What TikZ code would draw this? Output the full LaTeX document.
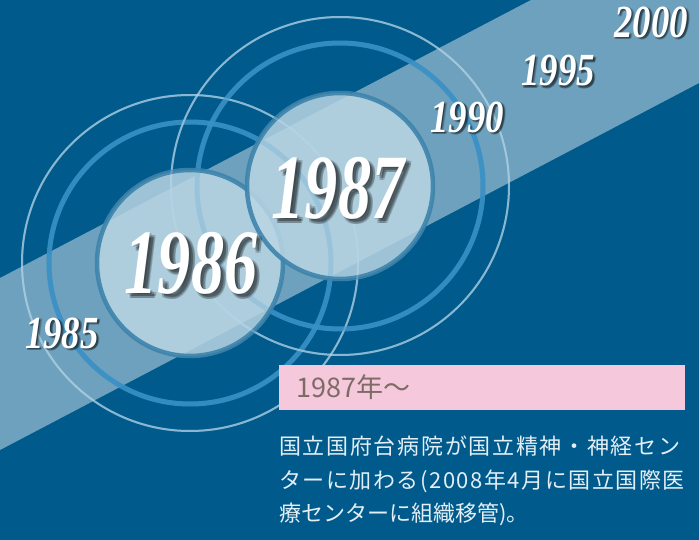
\documentclass[tikz,border=0pt]{standalone}
\usepackage{fontspec}
\usepackage{graphicx}
\newfontfamily\yrfont{Liberation Serif}
\newfontfamily\jp{Noto Sans CJK JP}
\newfontfamily\jpwideA[LetterSpace=7.7]{Noto Sans CJK JP}
\newfontfamily\jpwideB[LetterSpace=7.0]{Noto Sans CJK JP}
\definecolor{bgblue}{RGB}{0,91,140}
\definecolor{ringblue}{RGB}{58,145,198}
\definecolor{ringlight}{RGB}{175,210,230}
\definecolor{discfill}{RGB}{186,214,228}
\definecolor{discedge}{RGB}{62,132,172}
\definecolor{labelpink}{RGB}{245,200,220}
\definecolor{labeltext}{RGB}{125,108,102}
\definecolor{bodytext}{RGB}{228,238,245}
\newcommand\yearlabel[6]{%
  \foreach \d/\e in {1.5/1.5,3/3,4.5/4.5,3/5,5/3}{%
    \node[yrshadow] at ({#2+\d*#4/80},{#3+\e*#4/80}) {\fontsize{#4}{#4}\selectfont\yrfont\bfseries\itshape\scalebox{#5}[1]{#6}};}%
  \node[yr] (#1) at (#2,#3) {\fontsize{#4}{#4}\selectfont\yrfont\bfseries\itshape\scalebox{#5}[1]{#6}};%
}
\begin{document}
\begin{tikzpicture}[x=1pt,y=-1pt,
  ringthick/.style={draw=ringblue,line width=5pt,draw opacity=0.9},
  ringthin/.style={draw=ringlight,line width=2pt,draw opacity=0.7},
  disc/.style={circle,fill=discfill,fill opacity=0.85,draw=discedge,draw opacity=0.9,line width=4.5pt,inner sep=0pt},
  yr/.style={text=white,inner sep=0pt},
  yrshadow/.style={text=black,text opacity=0.18,inner sep=0pt},
  bodytxt/.style={text=bodytext,inner sep=0pt,font=\fontsize{22}{22}\selectfont\jp},
  pinkbox/.style={fill=labelpink,draw=none,inner sep=0pt}]
\useasboundingbox (0,0) rectangle (699,540);
\fill[bgblue] (0,0) rectangle (699,540);
% diagonal band
\fill[white,opacity=0.43] (0,278) -- (531,0) -- (699,0) -- (699,83) -- (0,450) -- cycle;
% centres
\coordinate (o86) at (190,263);
\coordinate (o87) at (340,186);
% rings
\draw[ringthick] (o86) circle[radius=141];
\draw[ringthin] (o86) circle[radius=168];
\draw[ringthick] (o87) circle[radius=143];
\draw[ringthin] (o87) circle[radius=169];
% discs
\node[disc,minimum size=186pt] (c86) at (o86) {};
\node[disc,minimum size=186pt] (c87) at (o87) {};
% rings faintly through discs
\draw[ringthin,draw opacity=0.3] (o86) circle[radius=168];
\draw[ringthin,draw opacity=0.3] (o87) circle[radius=169];
\draw[ringthick,draw opacity=0.12] (o86) circle[radius=141];
\draw[ringthick,draw opacity=0.12] (o87) circle[radius=143];
% year labels
\yearlabel{y86}{191}{263}{92}{0.72}{1986}
\yearlabel{y87}{338}{188}{92}{0.72}{1987}
\yearlabel{y85}{62}{333}{46}{0.8}{1985}
\yearlabel{y90}{467}{117}{46}{0.8}{1990}
\yearlabel{y95}{558}{71}{46}{0.8}{1995}
\yearlabel{y00}{651}{22}{46}{0.8}{2000}
% pink label
\node[pinkbox,minimum width=406pt,minimum height=45pt,anchor=north west] (lab) at (279,365) {};
\node[text=labeltext,inner sep=0pt,anchor=west,font=\fontsize{27}{27}\selectfont\jp] (labt) at (296,387) {1987年〜};
% body
\node[bodytxt,anchor=base west] (l1) at (279,454) {\jpwideA 国立国府台病院が国立精神・神経セン};
\node[bodytxt,anchor=base west] (l2) at (279,488) {\jpwideB ターに加わる(2008年4月に国立国際医};
\node[bodytxt,anchor=base west] (l3) at (279,521) {療センターに組織移管)。};
\end{tikzpicture}
\end{document}
